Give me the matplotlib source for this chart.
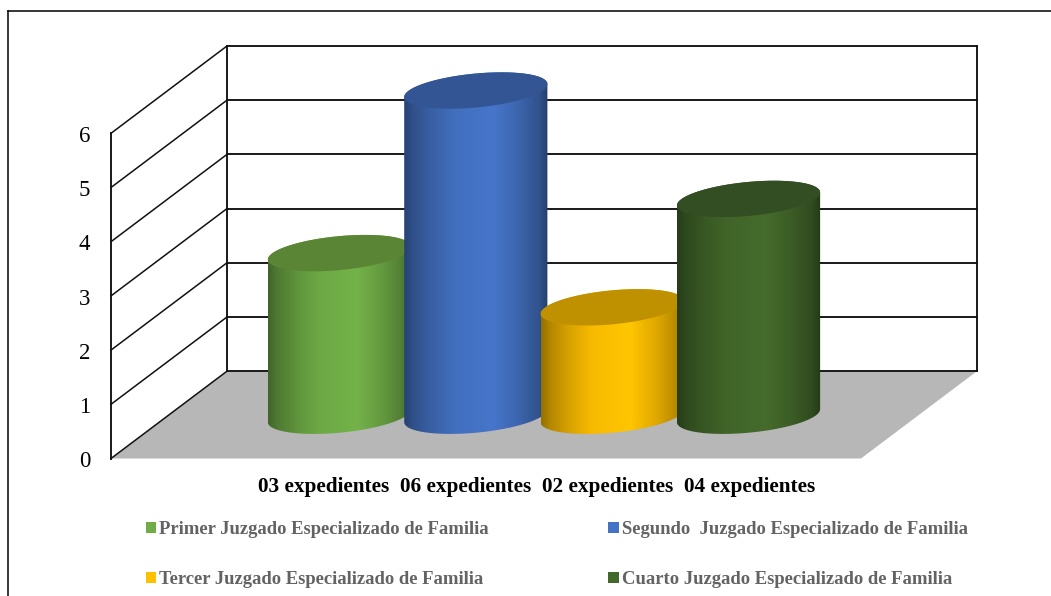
import numpy as np
import matplotlib
matplotlib.use('Agg')
import matplotlib.pyplot as plt
from matplotlib.colors import LinearSegmentedColormap, to_rgb
from matplotlib.lines import Line2D
from matplotlib.patches import Patch, Polygon
from matplotlib.transforms import ScaledTranslation

# data
series_names = ['Primer Juzgado Especializado de Familia',
                'Segundo  Juzgado Especializado de Familia',
                'Tercer Juzgado Especializado de Familia',
                'Cuarto Juzgado Especializado de Familia']
series_values = [3, 6, 2, 4]
category_labels = ['03 expedientes', '06 expedientes', '02 expedientes', '04 expedientes']
y_ticks = [0, 1, 2, 3, 4, 5, 6]

# colours
legend_colors = ['#70ad47', '#4472c4', '#ffc000', '#43682b']
top_colors = ['#5a8535', '#335593', '#bf9000', '#334e22']
floor_color = '#b7b7b7'
text_gray = '#636363'

W, H = 1051, 596
plt.rcParams['font.family'] = ['Liberation Serif']

fig = plt.figure(figsize=(W / 100, H / 100), dpi=100)
ax = fig.add_axes([111 / W, (H - 458.5) / H, 750 / W, 325.2 / H])
ax.set_xlim(-1.25, 4.25)
ax.set_ylim(0, 6)

# how far the back wall sits from the front plane, in data units
depth_x = 116 / 136.4
depth_y = 87.3 / 54.2


def back(x, y, d=1.0):
    return x + d * depth_x, y + d * depth_y


# floor
x0, x1 = ax.get_xlim()
floor = [(x0, 0), (x1, 0), back(x1, 0), back(x0, 0)]
ax.add_patch(Polygon(floor, closed=True, fc=floor_color, ec='none', zorder=1, clip_on=False))

# walls and grid lines
for v in y_ticks:
    bx0, by = back(x0, v)
    bx1, _ = back(x1, v)
    ax.plot([bx0, bx1], [by, by], color='#111111', lw=1.35, zorder=2, clip_on=False)
    ax.plot([x0, bx0], [v, by], color='#111111', lw=1.1, zorder=2, clip_on=False)
for xx in (x0, x1):
    bx, by0 = back(xx, 0)
    _, by1 = back(xx, 6)
    ax.plot([bx, bx], [by0, by1], color='#111111', lw=1.35, zorder=2, clip_on=False)

# cylinders
half_w = 0.525
tilt = 6.5 / 54.2
minor = 17 / 54.2
stops = [0, 0.06, 0.2, 0.35, 0.62, 0.8, 0.94, 1]
shade = [0.58, 0.7, 0.85, 0.97, 1.03, 0.88, 0.72, 0.55]


def ellipse(cx, cy, t):
    return np.column_stack([cx + half_w * np.cos(t),
                            cy + tilt * np.cos(t) + minor * np.sin(t)])


for i, val in enumerate(series_values):
    cx, _ = back(i, 0, 0.5)
    _, base = back(i, 0, 0.49)
    top = base + val
    z = 3 + i

    lower = ellipse(cx, base, np.linspace(np.pi, 2 * np.pi, 80))
    upper = ellipse(cx, top, np.linspace(0, np.pi, 80))
    body = Polygon(np.vstack([lower, upper]), closed=True, fc='none', ec='none',
                   transform=ax.transData)
    ax.add_patch(body)
    body.set_clip_on(False)

    rgb = np.array(to_rgb(legend_colors[i]))
    grad = LinearSegmentedColormap.from_list(
        'c%d' % i, [(s, tuple(np.clip(rgb * k, 0, 1))) for s, k in zip(stops, shade)])
    im = ax.imshow(np.linspace(0, 1, 256).reshape(1, -1), cmap=grad, aspect='auto',
                   extent=(cx - half_w, cx + half_w, base - 1, top + 1), zorder=z,
                   interpolation='bilinear')
    im.set_clip_box(fig.bbox)
    im.set_clip_path(body)

    cap = ellipse(cx, top, np.linspace(0, 2 * np.pi, 160))
    ax.add_patch(Polygon(cap, closed=True, fc=top_colors[i], ec='none', zorder=z, clip_on=False))

ax.set_xlim(x0, x1)
ax.set_ylim(0, 6)
ax.patch.set_visible(False)

# axes
for side in ['top', 'right', 'bottom']:
    ax.spines[side].set_visible(False)
ax.spines['left'].set_linewidth(1.35)
ax.spines['left'].set_color('#111111')
ax.set_yticks(y_ticks)
ax.tick_params(axis='y', length=0, pad=15, labelsize=16.5, labelcolor='black')
nudge = ScaledTranslation(0, -0.7 / 100, fig.dpi_scale_trans)
for lab in ax.get_yticklabels():
    lab.set_transform(lab.get_transform() + nudge)
ax.set_xticks([1.87])
ax.set_xticklabels(['  '.join(category_labels)], fontsize=15.3, fontweight='bold')
ax.tick_params(axis='x', length=0, pad=13)

# legend
handles = [Patch(fc=c, ec='none', label=n) for c, n in zip(legend_colors, series_names)]
order = [0, 2, 1, 3]
leg = fig.legend([handles[k] for k in order], [series_names[k] for k in order],
                 ncol=2, loc='upper left', bbox_to_anchor=(146 / W, (H - 521) / H),
                 frameon=False, borderpad=0, borderaxespad=0,
                 handlelength=0.54, handleheight=0.54, handletextpad=0.16,
                 labelspacing=1.78, columnspacing=6.41,
                 prop={'size': 13.45, 'weight': 'bold'})
for t in leg.get_texts():
    t.set_color(text_gray)

# outer frame, cut by the page on the right and at the bottom
fig.add_artist(Line2D([8 / W, 8 / W], [0, (H - 10.5) / H], color='black', lw=1.1))
fig.add_artist(Line2D([8 / W, 1], [(H - 10.5) / H, (H - 10.5) / H], color='black', lw=1.1))

fig.savefig('out.png', dpi=100)
